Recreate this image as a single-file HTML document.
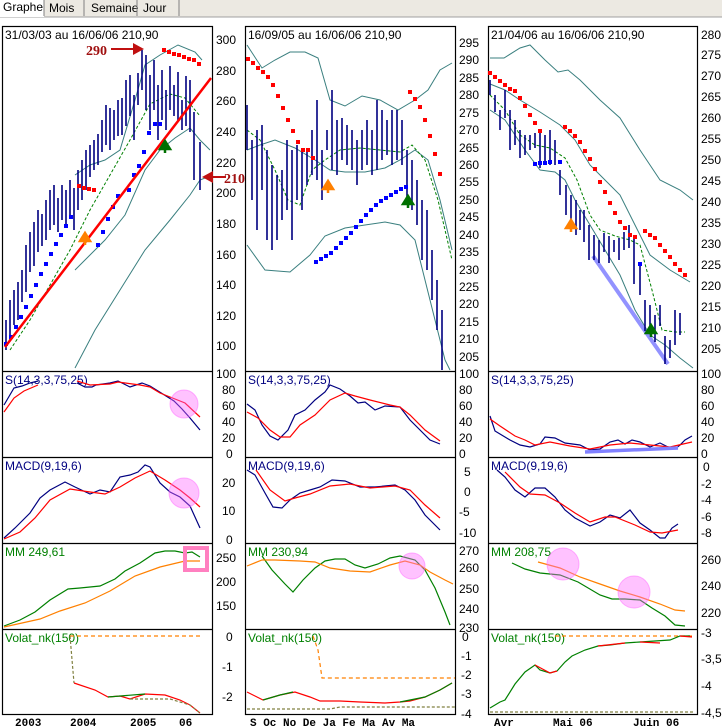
<!DOCTYPE html>
<html><head><meta charset="utf-8"><style>
body{margin:0;background:#fff;}
svg{display:block;font-family:"Liberation Sans",sans-serif;}
</style></head><body>
<svg width="722" height="728" viewBox="0 0 722 728" xmlns="http://www.w3.org/2000/svg">
<rect width="722" height="728" fill="#fff"/>
<!-- tabs -->
<rect x="0" y="0" width="722" height="17" fill="#ece9e2"/>
<line x1="0" y1="17" x2="722" y2="17" stroke="#a0a0a0"/>
<g font-size="12" fill="#000">
<rect x="0" y="0" width="44" height="17" fill="#fff"/><text x="3" y="11">Graphe</text>
<line x1="44" y1="0" x2="44" y2="16" stroke="#808080"/>
<text x="49" y="12">Mois</text><line x1="84" y1="0" x2="84" y2="16" stroke="#808080"/>
<text x="91" y="12">Semaine</text><line x1="137" y1="0" x2="137" y2="16" stroke="#808080"/>
<text x="143" y="12">Jour</text><line x1="179" y1="0" x2="179" y2="16" stroke="#808080"/>
</g>
<!-- panel frames -->
<g fill="none" stroke="#000" stroke-width="1.2">
<rect x="2.5" y="26.5" width="210" height="688"/>
<rect x="245.5" y="26.5" width="210" height="688"/>
<rect x="488.5" y="26.5" width="209" height="688"/>
<path d="M2 371.5H213M2 457.5H213M2 543.5H213M2 629.5H213"/>
<path d="M245 371.5H456M245 457.5H456M245 543.5H456M245 629.5H456"/>
<path d="M488 371.5H698M488 457.5H698M488 543.5H698M488 629.5H698"/>
</g>
<!-- titles -->
<g font-size="12" fill="#000">
<text x="5" y="39">31/03/03 au 16/06/06  210,90</text>
<text x="248" y="39">16/09/05 au 16/06/06  210,90</text>
<text x="491" y="39">21/04/06 au 16/06/06  210,90</text>
</g>
<!-- axis labels -->
<g font-size="12" fill="#000">
<text x="216" y="44">300</text><text x="216" y="75">280</text><text x="216" y="105">260</text><text x="216" y="136">240</text><text x="216" y="167">220</text><text x="216" y="197">200</text><text x="216" y="228">180</text><text x="216" y="259">160</text><text x="216" y="289">140</text><text x="216" y="320">120</text><text x="216" y="350">100</text>
<text x="216" y="378">100</text><text x="222" y="394">80</text><text x="222" y="410">60</text><text x="222" y="426">40</text><text x="222" y="442">20</text><text x="226" y="458">0</text>
<text x="222" y="487">20</text><text x="222" y="515">10</text><text x="226" y="544">0</text>
<text x="216" y="562">250</text><text x="216" y="586">200</text><text x="216" y="610">150</text>
<text x="226" y="641">0</text><text x="222" y="671">-1</text><text x="222" y="701">-2</text>
</g>
<g font-size="12" fill="#000">
<text x="459" y="47">295</text><text x="459" y="64">290</text><text x="459" y="82">285</text><text x="459" y="99">280</text><text x="459" y="117">275</text><text x="459" y="134">270</text><text x="459" y="152">265</text><text x="459" y="169">260</text><text x="459" y="186">255</text><text x="459" y="204">250</text><text x="459" y="221">245</text><text x="459" y="239">240</text><text x="459" y="256">235</text><text x="459" y="274">230</text><text x="459" y="291">225</text><text x="459" y="308">220</text><text x="459" y="326">215</text><text x="459" y="343">210</text><text x="459" y="361">205</text>
<text x="459" y="378">100</text><text x="459" y="394">80</text><text x="459" y="410">60</text><text x="459" y="426">40</text><text x="459" y="442">20</text><text x="459" y="458">0</text>
<text x="464" y="476">5</text><text x="464" y="496">0</text><text x="459" y="516">-5</text><text x="459" y="537">-10</text>
<text x="459" y="555">270</text><text x="459" y="572">260</text><text x="459" y="593">250</text><text x="459" y="613">240</text><text x="459" y="632">230</text>
<text x="462" y="641">0</text><text x="461" y="660">-1</text><text x="461" y="679">-2</text><text x="461" y="698">-3</text><text x="461" y="718">-4</text>
</g>
<g font-size="12" fill="#000">
<text x="701" y="39">280</text><text x="701" y="59">275</text><text x="701" y="80">270</text><text x="701" y="101">265</text><text x="701" y="122">260</text><text x="701" y="143">255</text><text x="701" y="164">250</text><text x="701" y="185">245</text><text x="701" y="206">240</text><text x="701" y="227">235</text><text x="701" y="248">230</text><text x="701" y="269">225</text><text x="701" y="290">220</text><text x="701" y="311">215</text><text x="701" y="332">210</text><text x="701" y="353">205</text>
<text x="701" y="378">100</text><text x="701" y="394">80</text><text x="701" y="410">60</text><text x="701" y="426">40</text><text x="701" y="442">20</text><text x="701" y="458">0</text>
<text x="703" y="471">0</text><text x="701" y="488">-2</text><text x="701" y="504">-4</text><text x="701" y="521">-6</text><text x="701" y="537">-8</text>
<text x="701" y="564">260</text><text x="701" y="590">240</text><text x="701" y="617">220</text>
<text x="701" y="637">-3</text><text x="701" y="663">-3,5</text><text x="701" y="690">-4</text><text x="701" y="717">-4,5</text>
</g>
<!-- x labels -->
<g font-size="11" fill="#000" font-weight="bold" font-family="Liberation Mono,monospace">
<text x="15" y="726">2003</text><text x="70" y="726">2004</text><text x="130" y="726">2005</text><text x="179" y="726">06</text>
<text x="250" y="726">S Oc No De Ja Fe Ma Av Ma</text>
<text x="494" y="726">Avr</text><text x="553" y="726">Mai 06</text><text x="633" y="726">Juin 06</text>
</g>

<!-- LEFT MAIN -->
<g fill="none" stroke="#3a7f7f" stroke-width="1">
<path d="M75 175 L90 165 L105 160 L120 150 L135 100 L145 65 L160 55 L178 45 L195 52 L202 60"/>
<path d="M75 270 L90 255 L105 240 L125 215 L145 170 L160 150 L175 138 L190 128 L200 140 L210 150"/>
<path d="M75 368 L95 330 L120 290 L145 250 L170 220 L190 195 L200 180 L210 176"/>
</g>
<path d="M10 350 L30 320 L50 285 L70 250 L90 210 L110 175 L130 140 L150 104 L170 94 L185 98 L200 116" fill="none" stroke="#008000" stroke-dasharray="3,2"/>
<g stroke="#000080" stroke-width="1.6">
<path d="M6 320V350M10 300V340M14 290V325M18 282V320M22 270V302M26 245V292M30 232V272M34 222V266M38 210V252M42 214V246M46 200V240M50 190V230M54 185V225M58 198V232M62 185V220M66 190V226M70 180V215M74 188V230M78 170V210M82 160V200M86 150V190M90 145V177M94 140V170M98 134V165M102 120V152M106 105V145M110 108V150M114 110V140M118 100V136M122 98V135M126 80V126M130 75V116M134 95V140M138 73V105M142 50V90M146 55V110M150 75V130M154 60V110M158 85V140M162 70V120M166 90V130M170 66V110M174 85V116M178 72V120M182 100V130M186 76V126M190 80V132M194 112V180M200 142V190"/>
</g>
<g fill="#0000ff">
<rect x="4" y="342" width="4" height="4"/><rect x="9" y="335" width="4" height="4"/><rect x="14" y="325" width="4" height="4"/><rect x="19" y="315" width="4" height="4"/><rect x="24" y="305" width="4" height="4"/><rect x="29" y="294" width="4" height="4"/><rect x="34" y="283" width="4" height="4"/><rect x="39" y="272" width="4" height="4"/><rect x="44" y="262" width="4" height="4"/><rect x="49" y="252" width="4" height="4"/><rect x="54" y="242" width="4" height="4"/><rect x="59" y="233" width="4" height="4"/><rect x="64" y="224" width="4" height="4"/><rect x="69" y="215" width="4" height="4"/>
<rect x="96" y="243" width="4" height="4"/><rect x="101" y="230" width="4" height="4"/><rect x="106" y="217" width="4" height="4"/><rect x="111" y="205" width="4" height="4"/><rect x="116" y="194" width="4" height="4"/><rect x="127" y="188" width="4" height="4"/><rect x="132" y="173" width="4" height="4"/><rect x="137" y="164" width="4" height="4"/><rect x="142" y="150" width="4" height="4"/><rect x="147" y="131" width="4" height="4"/><rect x="153" y="122" width="4" height="4"/><rect x="158" y="122" width="4" height="4"/>
</g>
<g fill="#ff0000">
<rect x="77" y="184" width="4" height="4"/><rect x="82" y="186" width="4" height="4"/><rect x="87" y="187" width="4" height="4"/><rect x="92" y="188" width="4" height="4"/>
<rect x="162" y="48" width="4" height="4"/><rect x="167" y="50" width="4" height="4"/><rect x="172" y="52" width="4" height="4"/><rect x="177" y="53" width="4" height="4"/><rect x="182" y="55" width="4" height="4"/><rect x="187" y="57" width="4" height="4"/><rect x="192" y="58" width="4" height="4"/><rect x="197" y="62" width="4" height="4"/>
</g>
<line x1="5" y1="347" x2="211" y2="78" stroke="#ff0000" stroke-width="2.5"/>
<path d="M165 153V145M160 149L165 141L170 149Z" stroke="#007000" stroke-width="2.5" fill="#007000"/>
<path d="M85 245V237M80 241L85 233L90 241Z" stroke="#ff8000" stroke-width="2.5" fill="#ff8000"/>
<text x="86" y="55" font-size="14" font-weight="bold" fill="#a01010" font-family="Liberation Serif,serif">290</text>
<path d="M111 49H134" stroke="#c01010" stroke-width="2"/><path d="M133 43L144 49L133 55Z" fill="#c01010"/>
<path d="M212 177H226" stroke="#c01010" stroke-width="2"/><path d="M213 171L202 177L213 183Z" fill="#c01010"/>
<text x="224" y="183" font-size="14" font-weight="bold" fill="#a01010" font-family="Liberation Serif,serif">210</text>

<!-- MIDDLE MAIN -->
<g fill="none" stroke="#3a7f7f">
<path d="M247 45L262 68L275 60L290 52L305 52L318 58L330 100L345 106L362 96L380 100L398 110L415 100L428 90L440 70L452 63"/>
<path d="M247 150L260 145L275 140L295 148L315 160L330 170L345 172L365 172L385 168L400 160L415 150L428 160L440 200L452 250"/>
<path d="M247 245L265 270L290 272L310 255L325 236L345 228L365 225L385 222L400 225L415 240L430 300L445 360L450 370"/>
</g>
<path d="M247 130L260 140L275 170L288 200L300 205L312 170L325 160L340 150L360 148L380 150L400 152L412 145L425 160L438 200L452 260" fill="none" stroke="#008000" stroke-dasharray="3,2"/>
<g stroke="#000080" stroke-width="1.6">
<path d="M247 105V150M252 140V200M257 130V230M262 125V190M267 150V240M272 165V250M277 175V240M282 170V220M287 140V210M292 150V240M297 145V200M302 150V210M307 152V185M312 130V175M317 100V180M322 150V200M327 130V150M332 90V170M337 120V175M342 118V160M347 125V165M352 130V170M357 140V185M362 130V170M367 120V165M372 130V175M377 100V170M382 110V160M387 120V155M392 110V165M397 110V160M402 120V165M407 150V200M412 160V210M417 180V225M422 200V260M427 210V270M432 250V300M437 280V330M442 310V370"/>
</g>
<g fill="#ff0000">
<rect x="246" y="57" width="4" height="4"/><rect x="251" y="61" width="4" height="4"/><rect x="256" y="66" width="4" height="4"/><rect x="261" y="70" width="4" height="4"/><rect x="266" y="75" width="4" height="4"/><rect x="271" y="83" width="4" height="4"/><rect x="276" y="94" width="4" height="4"/><rect x="281" y="106" width="4" height="4"/><rect x="286" y="118" width="4" height="4"/><rect x="291" y="129" width="4" height="4"/><rect x="296" y="140" width="4" height="4"/><rect x="301" y="148" width="4" height="4"/><rect x="306" y="148" width="4" height="4"/><rect x="311" y="156" width="4" height="4"/>
<rect x="408" y="90" width="4" height="4"/><rect x="413" y="97" width="4" height="4"/><rect x="418" y="105" width="4" height="4"/><rect x="423" y="118" width="4" height="4"/><rect x="428" y="134" width="4" height="4"/><rect x="433" y="152" width="4" height="4"/><rect x="438" y="172" width="4" height="4"/>
</g>
<g fill="#0000ff">
<rect x="314" y="260" width="4" height="4"/><rect x="319" y="257" width="4" height="4"/><rect x="324" y="254" width="4" height="4"/><rect x="329" y="251" width="4" height="4"/><rect x="334" y="246" width="4" height="4"/><rect x="339" y="241" width="4" height="4"/><rect x="344" y="236" width="4" height="4"/><rect x="349" y="231" width="4" height="4"/><rect x="354" y="225" width="4" height="4"/><rect x="359" y="219" width="4" height="4"/><rect x="364" y="213" width="4" height="4"/><rect x="369" y="208" width="4" height="4"/><rect x="374" y="203" width="4" height="4"/><rect x="379" y="199" width="4" height="4"/><rect x="384" y="196" width="4" height="4"/><rect x="389" y="193" width="4" height="4"/><rect x="394" y="190" width="4" height="4"/><rect x="399" y="187" width="4" height="4"/><rect x="404" y="185" width="4" height="4"/>
</g>
<path d="M328 193V185M323 189L328 181L333 189Z" stroke="#ff8000" stroke-width="2.5" fill="#ff8000"/>
<path d="M408 208V200M403 204L408 196L413 204Z" stroke="#007000" stroke-width="2.5" fill="#007000"/>

<!-- RIGHT MAIN -->
<g fill="none" stroke="#3a7f7f">
<path d="M490 58L504 58L520 48L530 45L545 60L558 72L568 70L580 80L600 100L620 118L640 150L660 180L680 190L693 200"/>
<path d="M490 84L505 90L520 100L540 112L560 125L575 140L590 165L605 180L620 195L635 225L650 255L670 270L690 282"/>
<path d="M490 110L505 120L525 150L540 170L555 172L565 180L575 200L590 225L605 250L620 275L635 310L650 335L665 345L680 358L693 368"/>
</g>
<path d="M490 95L505 110L520 135L535 145L550 148L565 158L577 180L590 215L600 230L615 236L630 240L640 245L652 290L662 330L675 332L685 332" fill="none" stroke="#008000" stroke-dasharray="3,2"/>
<line x1="593" y1="256" x2="668" y2="364" stroke="#8080ff" stroke-width="4" opacity="0.85"/>
<g stroke="#000080" stroke-width="1.6">
<path d="M490 80V95M495 95V112M500 110V130M505 90V118M510 110V150M515 120V145M520 130V158M525 135V155M530 135V150M535 133V148M540 130V168M545 135V165M550 130V165M555 140V165M560 170V195M566 185V215M571 195V225M576 200V235M580 210V230M584 210V242M589 225V260M594 235V260M599 240V263M604 233V252M609 236V263M614 240V252M619 238V260M624 232V250M629 225V248M634 238V284M640 264V295M645 300V331M650 305V330M655 315V342M660 305V326M665 336V364M670 340V358M675 310V345M680 313V335"/>
</g>
<g fill="#ff0000">
<rect x="488" y="71" width="4" height="4"/><rect x="493" y="75" width="4" height="4"/><rect x="498" y="79" width="4" height="4"/><rect x="503" y="83" width="4" height="4"/><rect x="508" y="87" width="4" height="4"/><rect x="513" y="89" width="4" height="4"/><rect x="518" y="96" width="4" height="4"/><rect x="523" y="104" width="4" height="4"/><rect x="528" y="113" width="4" height="4"/><rect x="533" y="121" width="4" height="4"/><rect x="538" y="129" width="4" height="4"/>
<rect x="563" y="125" width="4" height="4"/><rect x="568" y="129" width="4" height="4"/><rect x="573" y="134" width="4" height="4"/><rect x="578" y="140" width="4" height="4"/><rect x="583" y="149" width="4" height="4"/><rect x="588" y="157" width="4" height="4"/><rect x="593" y="167" width="4" height="4"/><rect x="598" y="180" width="4" height="4"/><rect x="603" y="190" width="4" height="4"/><rect x="608" y="201" width="4" height="4"/><rect x="613" y="211" width="4" height="4"/><rect x="618" y="220" width="4" height="4"/><rect x="623" y="226" width="4" height="4"/><rect x="628" y="233" width="4" height="4"/><rect x="633" y="235" width="4" height="4"/>
<rect x="643" y="229" width="4" height="4"/><rect x="648" y="233" width="4" height="4"/><rect x="653" y="236" width="4" height="4"/><rect x="658" y="243" width="4" height="4"/><rect x="663" y="249" width="4" height="4"/><rect x="668" y="255" width="4" height="4"/><rect x="673" y="262" width="4" height="4"/><rect x="678" y="268" width="4" height="4"/><rect x="683" y="273" width="4" height="4"/>
</g>
<g fill="#0000ff"><rect x="533" y="162" width="4" height="4"/><rect x="538" y="161" width="4" height="4"/><rect x="543" y="161" width="4" height="4"/><rect x="548" y="160" width="4" height="4"/><rect x="558" y="160" width="4" height="4"/><rect x="638" y="262" width="4" height="4"/></g>
<path d="M571 232V224M566 228L571 220L576 228Z" stroke="#ff8000" stroke-width="2.5" fill="#ff8000"/>
<path d="M651 337V329M646 333L651 325L656 333Z" stroke="#007000" stroke-width="2.5" fill="#007000"/>

<!-- STOCH -->
<g font-size="12" fill="#000080"><text x="5" y="384">S(14,3,3,75,25)</text><text x="248" y="384">S(14,3,3,75,25)</text><text x="491" y="384">S(14,3,3,75,25)</text></g>
<g fill="none" stroke-width="1.2">
<path d="M4 405L14 388L22 386L30 383L38 381M77 383L85 387L92 387L96 385L110 383L118 381L130 387L142 383L150 386L158 391L166 396L174 401L182 409L190 418L200 430" stroke="#000080"/>
<path d="M4 412L14 398L24 391L38 385M77 381L90 385L110 384L118 382L140 385L150 387L160 393L170 397L185 403L200 417" stroke="#ff0000"/>
<path d="M247 404L255 410L262 425L270 436L278 440L288 430L295 415L305 410L315 400L325 392L330 385L340 389L350 396L358 403L365 402L375 410L385 406L400 407L410 420L420 430L430 440L440 444" stroke="#000080"/>
<path d="M247 412L258 418L270 430L280 437L290 437L300 425L315 415L330 400L345 393L355 396L370 400L390 405L400 407L410 415L425 430L440 441" stroke="#ff0000"/>
<path d="M490 416L495 431L510 440L520 445L530 447L540 444L545 437L555 438L565 443L580 445L590 450L600 449L610 442L618 440L625 444L632 440L640 442L650 447L660 443L668 447L675 449L680 445L685 440L692 436" stroke="#000080"/>
<path d="M490 419L500 426L515 436L525 440L535 445L550 442L570 446L590 449L610 445L630 443L650 445L670 447L692 442" stroke="#ff0000"/>
</g>
<circle cx="184" cy="404" r="14" fill="#ff66ff" fill-opacity="0.4" stroke="#ff66ff" stroke-opacity="0.5"/>
<line x1="585" y1="452" x2="678" y2="448" stroke="#8080ff" stroke-width="3.5"/>

<!-- MACD -->
<g font-size="12" fill="#000080"><text x="5" y="470">MACD(9,19,6)</text><text x="248" y="470">MACD(9,19,6)</text><text x="491" y="470">MACD(9,19,6)</text></g>
<g fill="none" stroke-width="1.2">
<path d="M4 538L15 528L30 513L40 498L50 490L65 482L75 487L90 494L100 490L110 492L120 477L130 475L138 472L145 465L150 467L160 483L170 492L180 497L190 506L200 528" stroke="#000080"/>
<path d="M4 539L20 532L35 518L50 500L70 489L90 492L105 494L120 487L135 478L150 471L165 480L180 490L190 498L200 507" stroke="#ff0000"/>
<path d="M247 470L255 475L265 493L273 507L282 508L290 500L300 493L310 490L320 487L332 480L345 481L360 487L375 487L395 485L405 490L415 500L425 515L440 530" stroke="#000080"/>
<path d="M256 470L270 490L285 501L295 498L310 494L330 486L350 484L370 488L395 486L410 490L425 505L440 518" stroke="#ff0000"/>
<path d="M497 470L505 477L515 490L525 497L535 488L545 488L555 497L565 510L575 518L590 526L600 522L610 515L620 518L630 510L640 523L650 530L660 538L665 538L672 528L678 524" stroke="#000080"/>
<path d="M505 472L520 487L530 494L545 495L560 503L575 513L590 522L605 517L615 517L635 525L650 532L662 533L678 530" stroke="#ff0000"/>
</g>
<circle cx="184" cy="493" r="15" fill="#ff66ff" fill-opacity="0.4" stroke="#ff66ff" stroke-opacity="0.5"/>

<!-- MM -->
<g font-size="12" fill="#008000"><text x="5" y="556">MM  249,61</text><text x="248" y="556">MM  230,94</text><text x="491" y="556">MM  208,75</text></g>
<g fill="none" stroke-width="1.2">
<path d="M4 626L20 620L35 612L50 600L68 589L80 588L100 586L115 579L125 571L140 563L155 553L165 551L175 551L185 553L192 552L200 557" stroke="#008000"/>
<path d="M4 627L40 619L60 611L85 603L110 591L135 576L160 567L185 561L200 561" stroke="#ff8000"/>
<path d="M262 556L272 570L285 584L293 592L303 580L315 568L325 561L335 559L345 559L355 565L365 568L378 564L390 558L400 556L415 560L425 570L435 588L445 612L450 625" stroke="#008000"/>
<path d="M247 566L262 560L275 560L300 561L315 562L330 568L350 571L370 572L390 565L405 561L420 565L430 572L445 580L453 584" stroke="#ff8000"/>
<path d="M512 563L525 569L540 573L560 575L578 582L600 595L612 599L625 599L640 600L652 608L665 616L675 625L685 626" stroke="#008000"/>
<path d="M538 562L560 568L580 577L600 584L620 591L640 597L660 604L675 610L685 611" stroke="#ff8000"/>
</g>
<rect x="185" y="548" width="22" height="22" fill="none" stroke="#ff80c0" stroke-width="4"/>
<circle cx="412" cy="566" r="13" fill="#ff66ff" fill-opacity="0.4" stroke="#ff66ff" stroke-opacity="0.5"/>
<circle cx="563" cy="564" r="16" fill="#ff66ff" fill-opacity="0.4" stroke="#ff66ff" stroke-opacity="0.5"/>
<circle cx="634" cy="592" r="16" fill="#ff66ff" fill-opacity="0.4" stroke="#ff66ff" stroke-opacity="0.5"/>

<!-- VOLAT -->
<g font-size="12" fill="#008000"><text x="5" y="642">Volat_nk(150)</text><text x="248" y="642">Volat_nk(150)</text><text x="491" y="642">Volat_nk(150)</text></g>
<g fill="none" stroke-width="1.2">
<path d="M70 636H200" stroke="#ff8000" stroke-dasharray="4,3"/>
<path d="M70 636L74 683" stroke="#808040" stroke-dasharray="3,2"/>
<path d="M74 683L95 690L108 697L120 696L130 699L145 694L165 695L180 700L190 705L200 713" stroke="#ff0000"/>
<path d="M108 697L145 694" stroke="#008000"/><path d="M130 699L170 699L190 705L200 713" stroke="#808040" stroke-dasharray="3,2"/>
<path d="M313 636L318 650L322 678H455" stroke="#ff8000" stroke-dasharray="4,3"/>
<path d="M247 709H330L340 707H455" stroke="#808040" stroke-dasharray="3,2"/>
<path d="M247 692L263 700L280 695L295 692L310 697L320 701L340 701L360 702L385 703L400 702L410 701L425 697L440 690L452 683" stroke="#ff0000"/>
<path d="M263 700L280 695L293 692M400 702L425 697L440 690L452 683" stroke="#008000"/>
<path d="M555 636H693" stroke="#ff8000" stroke-dasharray="4,3"/>
<path d="M490 712H693" stroke="#808040" stroke-dasharray="3,2"/>
<path d="M490 708L500 702L505 700L515 684L525 672L535 665L540 670L550 673L557 671L565 662L572 656L585 650L598 646L610 645L625 643L640 642L655 641L670 640L680 636L690 636" stroke="#008000"/>
<path d="M535 665L550 673L557 671M598 646L625 643M640 642L660 643M680 636L692 637" stroke="#ff0000"/>
</g>
</svg>
</body></html>
